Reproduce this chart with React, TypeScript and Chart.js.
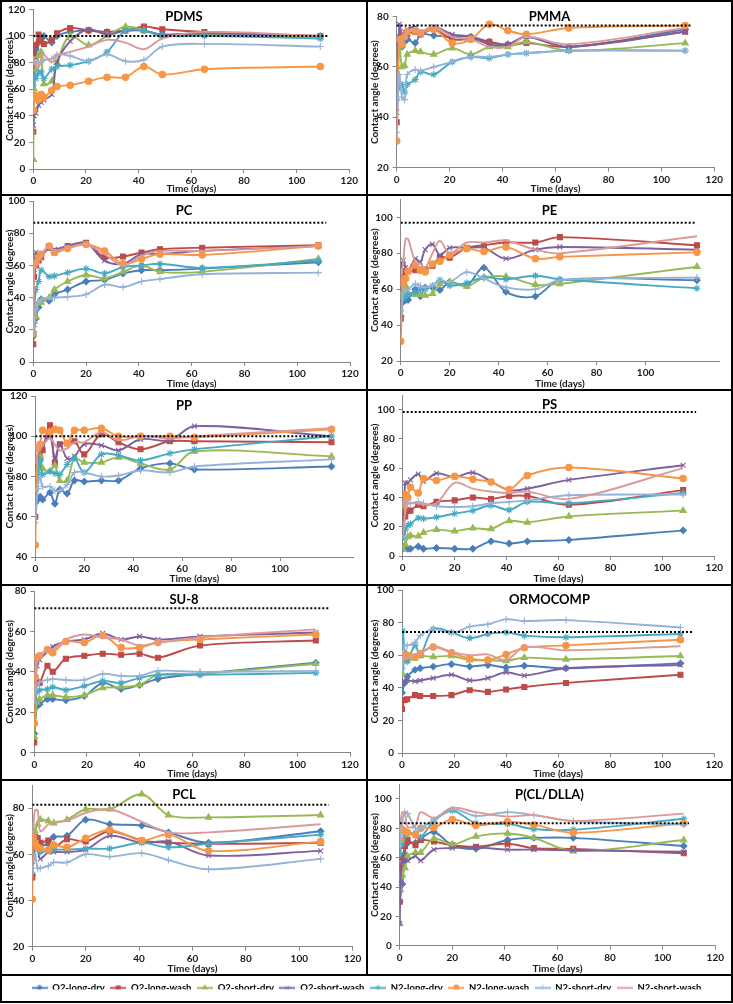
import React, { useEffect, useRef } from "react";
import { Chart, registerables } from "chart.js";
import { drawPoint } from "chart.js/helpers";

Chart.register(...registerables);

// ---------------- DATA ----------------
const SERIES_NAMES = ["O2-long-dry", "O2-long-wash", "O2-short-dry", "O2-short-wash", "N2-long-dry", "N2-long-wash", "N2-short-dry", "N2-short-wash"];
const Y_TITLE = "Contact angle (degrees)";
const X_TITLE = "Time (days)";

// PDMS
const PDMS_DAYS = [0, 0.3, 1, 2, 3, 4, 7, 9, 14, 21, 28, 35, 42, 49, 65, 109];
const PDMS_VALUES = [
  [75, 88, 90, 95, 98, 100, 95, 100, 103, 104, 103, 104, 104, 101, 102, 100],
  [28, 85, 93, 101, 97, 94, 97, 102, 106, 104, 103, 104, 107, 105, 103, 100],
  [7, 60, 75, 85, 88, 64, 66, 80, 100, 93, 100, 107, 104, 100, 101, 99],
  [33, 40, 42, 48, 50, 52, 56, 80, 96, 105, 101, 104, 104, 101, 102, 100],
  [63, 70, 68, 72, 73, 68, 75, 77, 78, 81, 88, 104, 104, 100, 100, 98],
  [44, 53, 55, 52, 56, 54, 59, 62, 63, 66, 69, 69, 77, 71, 75, 77],
  [80, 82, 80, 80, 81, 82, 83, 86, 85, 81, 86, 81, 82, 92, 94, 92],
  [85, 80, 78, 76, 82, 86, 80, 85, 88, 92, 97, 95, 90, 98, 103, 100],
];

// PMMA
const PMMA_DAYS = [0, 1, 2, 3, 4, 7, 9, 14, 21, 28, 35, 42, 49, 65, 109];
const PMMA_VALUES = [
  [67, 72, 68, 70, 71, 69.5, 73, 72.5, 72, 72, 70, 69, 72, 68, 75],
  [38, 71, 72, 72, 73, 74, 73, 75, 71, 71, 70, 68.5, 69.5, 68, 74],
  [60, 68, 60, 60.5, 65, 66.5, 66, 65, 67.5, 65, 68, 68, 70, 66.5, 69.5],
  [42, 77, 73, 74, 75, 76, 74, 76, 73, 72, 69, 69, 72, 68, 74],
  [47, 52, 53, 50, 53, 55, 58, 57, 62, 64, 63.5, 65, 65.5, 66.5, 66.5],
  [30.5, 71, 69, 72, 74, 74.5, 73.5, 75, 69.5, 71, 77, 74.5, 73, 75.5, 76.5],
  [34, 57, 48, 47, 57, 59, 58.5, 60, 62, 64, 64, 65, 65.5, 66.5, 66.5],
  [72, 70, 70, 72, 74, 75, 74, 76, 72, 71, 68, 68, 72, 69, 75.5],
];

// PC
const PC_DAYS = [0, 0.3, 1, 2, 3, 6, 8, 13, 20, 27, 34, 41, 48, 64, 108];
const PC_VALUES = [
  [16, null, 27, 34, 39, 38, 42, 45, 50, 51, 55, 57, 57, 58, 62],
  [11, 53, 60, 63, 65, 71, 68, 72, 74, 65, 65.5, 68, 70, 71, 72.5],
  [17, 25, 28, 37, 37, 40, 45, 50, 54, 52, 56, 60, 56, 56, 64],
  [18, 55, 68, 66, 66, 71, 70, 72, 74, 63, 61, 67, 67, 69, 72],
  [18, 30, 45, 50, 57, 53, 53.5, 55.5, 58, 55, 59, 60, 61, 58.5, 63],
  [18, 60, 62, 65, 67, 72, 68, 70.5, 73, 69, 61, 64, 67, 66.5, 72],
  [17, 22, 33, 37, 39, 40, 40, 40.5, 42, 48, 46.5, 50, 51.5, 54.5, 55.5],
  [18, 58, 62, 64, 66, 72, 69, 71, 73, 67, 60, 66, 69, 69, 72],
];

// PE
const PE_DAYS = [0, 1, 2, 3, 6, 8, 10, 13, 16, 20, 27, 34, 43, 55, 65, 121];
const PE_VALUES = [
  [45, 53, 54, 54, 60, 56, 61, 61, 59.5, 64, 62, 72, 58.5, 56, 65, 65],
  [44, 67, 70, 70, 70.5, 71, 71, 73, 78, 77.5, 83, 84.5, 86, 86, 89, 84.5],
  [56, 58, 62, 58, 57, 57, 56.5, 57.5, 63, 64, 61.5, 66.5, 67, 62.5, 63, 72.5],
  [72, 76, 72, 70, 77, 75, 82, 85, 79, 83, 83, 83, 77, 82, 83.5, 82],
  [48, 55, 56, 57, 58, 60, 60, 62, 65, 62, 63.5, 66.5, 65.5, 67.5, 65.5, 60.5],
  [31, 63.5, 66, 70, 73.5, 70.5, 69.5, 74, 75.5, 79, 82.5, 81, 83.5, 77, 78, 80.5],
  [42, 58, 60, 60, 63, 62, 61, 62, 65, 64, 69.5, 66, 61, 60, 65, 66.5],
  [65, 75, 88, 88, 75, 74, 72, 80, 87, 80, 86, 86, 87, 82, 80, 89.5],
];

// PP
const PP_DAYS = [0, 1, 2, 3, 6, 8, 10, 13, 16, 20, 27, 34, 43, 55, 65, 121];
const PP_VALUES = [
  [67, 68.5, 70, 68.5, 72, 66.5, 73.5, 71.5, 78, 77.5, 78, 78, 84, 86.5, 83.5, 85],
  [60, 86.5, 89, 93, 105.5, 87, 96, 96.5, 97.5, 91, 101, 97, 93.5, 97.5, 97.5, 97],
  [74, 82, 90, 84, 82.5, 85.5, 78, 78, 89, 87, 87, 89.5, 86.5, 83.5, 92.5, 90],
  [74, 88, 95, 96, 100, 89, 96, 89, 90, 96, 95.5, 93, 98.5, 98, 105, 100],
  [74, 80, 88, 81, 82.5, 81.5, 81, 86, 89, 82, 91, 90.5, 88, 91.5, 93.5, 100],
  [46, 94, 96, 103, 102, 103.5, 103, 96.5, 103, 103, 104, 100, 100, 100, 99.5, 103.5],
  [57, 74, 80, 75, 75, 73, 73, 76, 82, 82, 80, 80.5, 83, 82, 85, 88.5],
  [86, 92, 97, 96, 99, 96, 93, 94, 97, 97, 102, 98, 100, 99, 100, 104],
];

// PS
const PS_DAYS = [0, 1, 2, 3, 6, 8, 13, 20, 27, 34, 41, 48, 64, 108];
const PS_VALUES = [
  [5, 5.5, 5, 5, 6.5, 5, 5.5, 5, 5, 10, 8.5, 10, 11, 17.5],
  [16, 27, 31, 31, 35, 34, 37, 38, 40, 39, 41, 41, 35, 45],
  [5, 8, 13, 14, 13.5, 16, 18, 17, 19, 18.5, 24, 23, 27, 31],
  [17, 50, 50, 52, 56, 51, 56.5, 54, 57, 51, 45, 46, 52, 62],
  [12, 18, 21, 22, 26, 25.5, 26.5, 29, 31, 34.5, 31.5, 37, 36, 43],
  [34.5, 42, 40, 47, 43, 53, 51.5, 54.5, 52.5, 50.5, 45.5, 55, 60.5, 53],
  [36, 37, 36, 36, 37, 36, 34, 33.5, 34, 36, 37, 38, 41.5, 42],
  [12, 30, 36, 36, 36, 35, 36, 50, 46, 44, 43, 44, 39, 60],
];

// SU-8
const SU8_DAYS = [0, 0.3, 1, 2, 5, 7, 12, 19, 26, 33, 40, 47, 63, 107];
const SU8_VALUES = [
  [9.5, null, 23, 24, 26.5, 26.5, 26, 28, 34.5, 31.5, 33.5, 36.5, 39, 44.5],
  [5, null, 35, 34.5, 43, 40, 46.5, 48, 49, 48.5, 49, 47, 53, 55.5],
  [8, null, 25, 26.5, 28.5, 28.5, 27.5, 28.5, 32, 32.5, 33.5, 38.5, 39, 44],
  [26, null, 43, 46, 50, 52.5, 55, 56, 59, 56, 57.5, 56, 57.5, 59.5],
  [26, null, 30, 31, 31.5, 32.5, 31, 33, 35.5, 34.5, 37, 38.5, 38.5, 39.5],
  [14.5, 37.5, 47, 48, 51, 49.5, 55, 54.5, 58, 52, 52, 54.5, 56, 58.5],
  [25, null, 33, 35, 36, 36.5, 36, 36, 39, 38, 38, 40.5, 40, 40.5],
  [25, null, 45, 48, 51, 51, 56, 58.5, 57, 56, 53, 54.5, 57, 61],
];

// ORMOCOMP
const ORMO_DAYS = [0, 0.3, 1, 2, 5, 7, 12, 19, 26, 33, 40, 47, 63, 107];
const ORMO_VALUES = [
  [37, null, 43, 47, 51, 52, 53, 54.5, 53, 54, 52.5, 53.5, 52, 55],
  [27, null, 32.5, 33, 35.5, 35, 35, 35.5, 38.5, 37.5, 39, 40.5, 43, 48],
  [49, null, 57, 57, 58, 59.5, 59, 59.5, 57, 57, 56.5, 58.5, 57.5, 59.5],
  [43, null, 44, 44.5, 44, 44.5, 46, 48, 44.5, 46, 49.5, 47.5, 52, 54],
  [52, 75, 62, 56, 66, 60, 76, 74, 70.5, 73, 74, 72, 71, 73],
  [61, null, 59, 60, 59, 61, 65, 61.5, 58, 57, 60.5, 64.5, 66, 69.5],
  [52, null, 66, 66, 68, 72, 76, 73.5, 77.5, 79, 82, 81, 81.5, 77],
  [57, null, 59, 58, 60, 61, 65.5, 62, 60, 60.5, 57, 65, 63, 65.5],
];

// PCL
const PCL_DAYS = [0, 0.3, 1, 2, 3, 6, 8, 13, 20, 29, 41, 51, 66, 108];
const PCL_VALUES = [
  [51, null, 64, 66, 64, 64.5, 67.5, 68, 75, 73, 72.5, 69.5, 65, 70],
  [50, 68, 67.5, 67, 65, 66, 63, 66.5, 65.5, 70, 66, 65, 64.5, 65],
  [60, null, 70, 73, 75, 74.5, 73.5, 75, 79.5, 79.5, 86, 77, 76, 77],
  [57, null, 63, 63, 58, 61, 61, 61, 62, 68, 65, 65.5, 59.5, 61.5],
  [63, null, 66, 62, 61, 61.5, 62, 62, 62.5, 62.5, 65, 63, 64.5, 68.5],
  [40.5, 67.5, 65, 63, 62.5, 62, 64, 63, 67, 70.5, 66, 68.5, 61.5, 65.5],
  [52, null, 60, 54, 54, 55, 56.5, 56.5, 60, 59, 60.5, 57.5, 53.5, 58],
  [66, null, 79, 79, 70, 73, 74, 74.5, 78, 79.5, 74, 69.5, 69.5, 73],
];

// P(CL/DLLA)
const PCLDLLA_DAYS = [0, 0.3, 1, 2, 3, 6, 8, 13, 20, 29, 41, 51, 66, 108];
const PCLDLLA_VALUES = [
  [30, null, 42, 62, 70, 70, 73, 77.5, 68.5, 66, 72, 73.5, 73.5, 68],
  [30, 53, 60, 68, 72, 68.5, 72, 71, 68.5, 67.5, 69.5, 66.5, 66, 63],
  [15, 38, 48, 53, 61, 63.5, 63.5, 73, 69, 74.5, 76.5, 73.5, 64.5, 72],
  [15, 43, 58, 58, 58, 61, 58, 65.5, 66.5, 67, 65.5, 65.5, 65, 64],
  [62, null, 70, 75, 76, 77, 74, 85, 92, 83.5, 83, 79.5, 79, 86.5],
  [72, 80, 79, 78, 77, 75.5, 80, 80.5, 86, 82, 84.5, 82.5, 77, 83.5],
  [68, null, 85, 91, 90, 80, 80, 86, 93, 88.5, 91, 89, 85, 82.5],
  [80, null, 91, 90, 81, 82, 91, 87, 94, 91, 88, 89, 85, 90],
];

// reference (dotted) values and axis ranges
const PANEL_NAMES = ["PDMS", "PMMA", "PC", "PE", "PP", "PS", "SU-8", "ORMOCOMP", "PCL", "P(CL/DLLA)"];
const PANEL_DAYS = [PDMS_DAYS, PMMA_DAYS, PC_DAYS, PE_DAYS, PP_DAYS, PS_DAYS, SU8_DAYS, ORMO_DAYS, PCL_DAYS, PCLDLLA_DAYS];
const PANEL_VALUES = [PDMS_VALUES, PMMA_VALUES, PC_VALUES, PE_VALUES, PP_VALUES, PS_VALUES, SU8_VALUES, ORMO_VALUES, PCL_VALUES, PCLDLLA_VALUES];
const REF_VALUES = [100, 76.5, 86.5, 97, 100, 98.3, 71.5, 74.3, 81.5, 83.5];
const REF_END_DAYS = [112, 111, 111, 120, 120.5, 113, 112, 112, 111, 110];
const Y_MIN = [0, 20, 0, 20, 40, 0, 0, 0, 20, 0];
const Y_MAX = [120, 80, 100, 110, 120, 110, 80, 100, 90, 110];
const X_MAX = [120, 120, 120, 130, 130, 120, 120, 120, 120, 120];

// ---------------- STYLE / LAYOUT ----------------
const SERIES_COLORS = ["#4A7EBB", "#BE4B48", "#98B954", "#7D60A0", "#46AAC5", "#F79646", "#95B3D7", "#DB9A98"];
const SERIES_MARKERS: any[] = ["rectRot", "rect", "triangle", "crossRot", "star", "circle", "cross", false];
const MARKER_RADIUS = [3.2, 3.5, 3.6, 3.5, 3.5, 3.2, 3.5, 0];
const FONT_FAMILY = "Lato, 'DejaVu Sans', sans-serif";
const AXIS_COLOR = "#868686";
const TEXT_COLOR = "#1a1a1a";

const FRAME_ROWS = [0, 194, 389, 584, 779, 974, 1001];
const COL_X = [2, 368];
const COL_W = [364, 363];
const EXT = 12;
// absolute plot boxes: [left, right, top, bottom, titleCenterY]
const PLOT_BOXES = [
  [33.3, 349.3, 9.3, 169, 16.7],
  [396.7, 714.3, 16.7, 167.5, 16.7],
  [33.3, 350, 201, 362, 210.7],
  [400.7, 719, 199.4, 361, 210.7],
  [35.3, 353.5, 396, 557, 405.7],
  [402.7, 714.3, 395, 556, 405],
  [34.3, 350, 591, 752.7, 600],
  [402, 714.3, 590, 753, 600],
  [32.3, 352.7, 785, 946.7, 795],
  [399.7, 715.3, 784.3, 945.7, 795],
];
const Y_TITLE_X = [10, 374.3];

Chart.defaults.font.family = FONT_FAMILY;

function Panel({ idx }: { idx: number }) {
  const ref = useRef<HTMLCanvasElement>(null);
  const col = idx % 2;
  const row = Math.floor(idx / 2);
  const x0 = COL_X[col];
  const w = COL_W[col];
  const y0 = FRAME_ROWS[row] + 2 - EXT;
  const h = FRAME_ROWS[row + 1] - (FRAME_ROWS[row] + 2) + EXT;

  useEffect(() => {
    const [L, R, T, B, TY] = PLOT_BOXES[idx];
    const Lc = L - x0, Rc = R - x0, Tc = T - y0, Bc = B - y0;
    const pad = w - Rc;
    const yWidth = Lc;
    const xHeight = h - Bc;
    const axisLH = 12;
    const yTitlePad = (Y_TITLE_X[col] - x0) - axisLH / 2;
    const timeY = FRAME_ROWS[row + 1] - 5 - y0;
    const xTitlePad = h - timeY - axisLH / 2;
    const titleLH = 13 * 1.2;
    const titlePadTop = (TY - y0) - Tc - titleLH / 2;
    const titlePadBottom = -(titlePadTop + titleLH);

    const days = PANEL_DAYS[idx];
    const values = PANEL_VALUES[idx];
    const yMin = Y_MIN[idx];
    const yMax = Y_MAX[idx];

    const datasets: any[] = values.map((vals, i) => ({
      label: SERIES_NAMES[i],
      data: days.map((d, j) => ({ x: d, y: vals[j] })),
      borderColor: SERIES_COLORS[i],
      backgroundColor: SERIES_COLORS[i],
      borderWidth: 1.9,
      tension: 0.35,
      spanGaps: true,
      pointStyle: SERIES_MARKERS[i],
      pointRadius: MARKER_RADIUS[i],
      pointBorderWidth: 1.1,
      pointBackgroundColor: SERIES_COLORS[i],
      pointBorderColor: SERIES_COLORS[i],
      order: 8 - i,
    }));
    datasets.push({
      label: "ref",
      data: [
        { x: 0, y: REF_VALUES[idx] },
        { x: REF_END_DAYS[idx], y: REF_VALUES[idx] },
      ],
      borderColor: "#000",
      borderWidth: 2,
      borderDash: [2, 2],
      pointRadius: 0,
      tension: 0,
      order: 0,
    });

    const tickFont = { size: 10, weight: "bold" as const, family: FONT_FAMILY };
    const chart = new Chart(ref.current!, {
      type: "line",
      data: { datasets },
      options: {
        responsive: false,
        animation: false,
        events: [],
        layout: { padding: { left: 0, right: 0, top: Tc, bottom: 0 } },
        plugins: {
          legend: { display: false },
          tooltip: { enabled: false },
          title: {
            display: true,
            text: PANEL_NAMES[idx],
            color: "#000",
            font: { size: 13, weight: "bold", family: FONT_FAMILY },
            padding: { top: titlePadTop, bottom: titlePadBottom },
          },
        },
        scales: {
          x: {
            type: "linear",
            min: 0,
            max: X_MAX[idx],
            afterFit: (s: any) => { s.height = xHeight; },
            afterBuildTicks: (s: any) => { s.ticks = s.ticks.filter((t: any) => t.value % 20 === 0); },
            ticks: { stepSize: 20, autoSkip: false, maxRotation: 0, padding: 2, color: TEXT_COLOR, font: tickFont },
            grid: { display: true, drawOnChartArea: false, drawTicks: true, tickLength: 4, color: AXIS_COLOR },
            border: { display: true, color: AXIS_COLOR, width: 1 },
            title: { display: true, text: X_TITLE, color: TEXT_COLOR, font: tickFont, padding: { top: 0, bottom: xTitlePad } },
          },
          y: {
            type: "linear",
            min: yMin,
            max: yMax,
            afterFit: (s: any) => { s.width = yWidth; },
            afterBuildTicks: (s: any) => { s.ticks = s.ticks.filter((t: any) => (t.value - yMin) % 20 === 0); },
            ticks: { stepSize: 20, autoSkip: false, padding: 4, color: TEXT_COLOR, font: tickFont },
            grid: { display: true, drawOnChartArea: false, drawTicks: true, tickLength: 4, color: AXIS_COLOR },
            border: { display: true, color: AXIS_COLOR, width: 1 },
            title: { display: true, text: Y_TITLE, color: TEXT_COLOR, font: tickFont, padding: { top: yTitlePad, bottom: 0 } },
          },
          spacer: {
            type: "linear",
            position: "right",
            display: true,
            afterFit: (s: any) => { s.width = pad; },
            ticks: { display: false },
            grid: { display: false, drawTicks: false },
            border: { display: false },
            title: { display: false },
          },
        },
      } as any,
    });
    return () => chart.destroy();
  }, []);

  return (
    <canvas
      ref={ref}
      width={w}
      height={h}
      style={{ position: "absolute", left: x0, top: y0, width: w, height: h }}
    />
  );
}

function makeLegendIcon(i: number): HTMLCanvasElement {
  const c = document.createElement("canvas");
  c.width = 16;
  c.height = 9;
  const ctx = c.getContext("2d")!;
  ctx.strokeStyle = SERIES_COLORS[i];
  ctx.fillStyle = SERIES_COLORS[i];
  ctx.lineWidth = 2;
  ctx.beginPath();
  ctx.moveTo(0, 4.5);
  ctx.lineTo(16, 4.5);
  ctx.stroke();
  if (SERIES_MARKERS[i]) {
    ctx.lineWidth = 1;
    drawPoint(ctx, { pointStyle: SERIES_MARKERS[i], radius: 3, rotation: 0, borderWidth: 1 } as any, 8, 4.5);
  }
  return c;
}

const LEGEND_TOP = 900;
const LEGEND_H = 101;
const LEGEND_TEXT_Y = 988;
const LEGEND_PAD = 5.5;
const LEGEND_FONT = 9.5;

function Legend() {
  const ref = useRef<HTMLCanvasElement>(null);
  useEffect(() => {
    const icons = SERIES_NAMES.map((_, i) => makeLegendIcon(i));
    const padTop = LEGEND_TEXT_Y - LEGEND_TOP - LEGEND_PAD - LEGEND_FONT / 2;
    const chart = new Chart(ref.current!, {
      type: "line",
      data: { datasets: SERIES_NAMES.map((n, i) => ({ label: n, data: [], borderColor: SERIES_COLORS[i] })) },
      options: {
        responsive: false,
        animation: false,
        events: [],
        layout: { padding: { top: padTop, left: 0, right: 0, bottom: 0 } },
        scales: { x: { display: false }, y: { display: false } },
        plugins: {
          tooltip: { enabled: false },
          legend: {
            display: true,
            position: "top",
            labels: {
              usePointStyle: true,
              pointStyleWidth: 16,
              boxHeight: 9,
              padding: LEGEND_PAD,
              color: TEXT_COLOR,
              font: { size: LEGEND_FONT, weight: "bold", family: FONT_FAMILY },
              generateLabels: () =>
                SERIES_NAMES.map((n, i) => ({
                  text: n,
                  fillStyle: SERIES_COLORS[i],
                  strokeStyle: SERIES_COLORS[i],
                  lineWidth: 0,
                  pointStyle: icons[i],
                  hidden: false,
                  datasetIndex: i,
                })),
            },
          },
        },
      } as any,
    });
    return () => chart.destroy();
  }, []);
  return (
    <canvas
      ref={ref}
      width={729}
      height={LEGEND_H}
      style={{ position: "absolute", left: 2, top: LEGEND_TOP, width: 729, height: LEGEND_H }}
    />
  );
}

export default function App() {
  const lines: React.ReactNode[] = [];
  FRAME_ROWS.forEach((y, i) =>
    lines.push(<div key={"h" + i} style={{ position: "absolute", left: 0, top: y, width: 733, height: 2, background: "#000" }} />)
  );
  lines.push(<div key="v0" style={{ position: "absolute", left: 0, top: 0, width: 2, height: 1003, background: "#000" }} />);
  lines.push(<div key="v1" style={{ position: "absolute", left: 366, top: 0, width: 2, height: 976, background: "#000" }} />);
  lines.push(<div key="v2" style={{ position: "absolute", left: 731, top: 0, width: 2, height: 1003, background: "#000" }} />);
  return (
    <div style={{ position: "absolute", left: 0, top: 0, width: 733, height: 1004, background: "#fff", overflow: "hidden" }}>
      {PANEL_NAMES.map((_, i) => (
        <Panel key={i} idx={i} />
      ))}
      <Legend />
      {lines}
    </div>
  );
}
